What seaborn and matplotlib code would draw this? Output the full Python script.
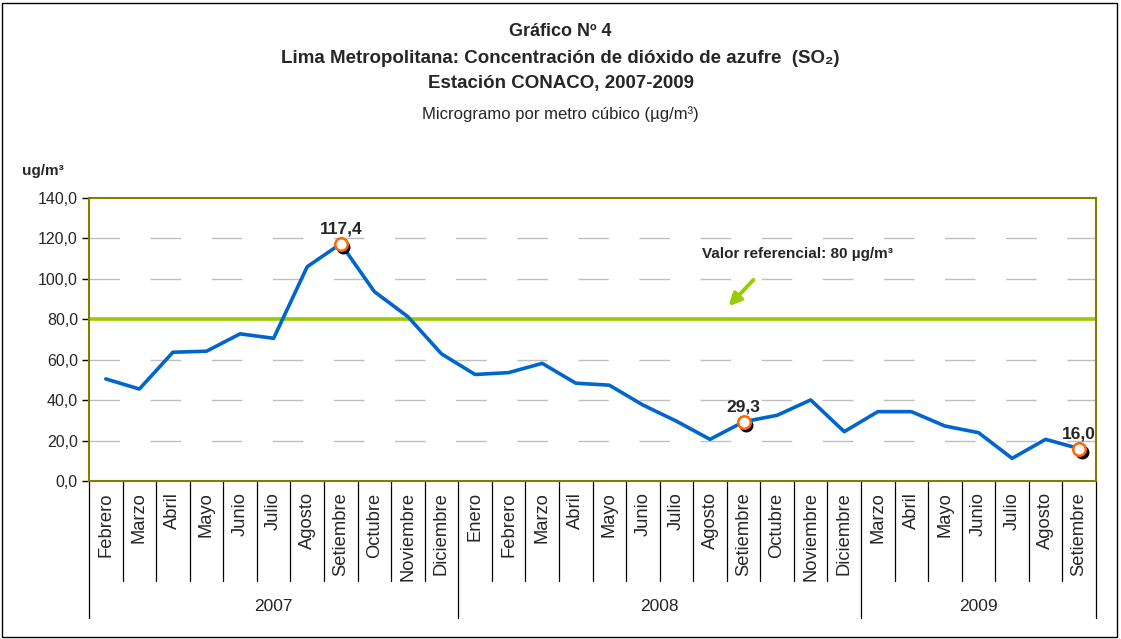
import matplotlib
matplotlib.use("Agg")
import matplotlib.pyplot as plt
import matplotlib.transforms as mtransforms
from matplotlib.patches import Rectangle
import seaborn as sns
import pandas as pd

months = ["Febrero", "Marzo", "Abril", "Mayo", "Junio", "Julio", "Agosto", "Setiembre",
          "Octubre", "Noviembre", "Diciembre",
          "Enero", "Febrero", "Marzo", "Abril", "Mayo", "Junio", "Julio", "Agosto",
          "Setiembre", "Octubre", "Noviembre", "Diciembre",
          "Marzo", "Abril", "Mayo", "Junio", "Julio", "Agosto", "Setiembre"]
years = ["2007", "2008", "2009"]
year_sizes = [11, 12, 7]
so2 = [50.5, 45.5, 63.7, 64.2, 72.8, 70.6, 106.0, 117.4, 93.7, 81.3, 62.9,
       52.7, 53.6, 58.2, 48.4, 47.4, 37.6, 29.6, 20.6, 29.3, 32.5, 40.1, 24.4,
       34.3, 34.3, 27.2, 23.9, 11.2, 20.6, 16.0]
ref_value = 80
highlight = [7, 19, 29]

df = pd.DataFrame({"pos": range(len(so2)), "so2": so2})

sns.set_style("white")
narrow = ["Liberation Sans Narrow", "Liberation Sans", "DejaVu Sans"]
plt.rcParams["font.family"] = ["Liberation Sans", "DejaVu Sans"]

fig = plt.figure(figsize=(11.21, 6.39), dpi=100)
ax = fig.add_axes([0.0794, 0.2473, 0.8983, 0.4428])

# reference line
ax.axhline(ref_value, color="#99CC00", lw=2.6, zorder=2)

sns.lineplot(data=df, x="pos", y="so2", ax=ax, color="#0066CC", lw=2.6, zorder=3)

# highlighted points: black shadow + orange hollow circle
shadow = mtransforms.offset_copy(ax.transData, fig=fig, x=2.5, y=-3, units="dots")
hx = [df["pos"][i] for i in highlight]
hy = [df["so2"][i] for i in highlight]
ax.plot(hx, hy, "o", ms=9, color="black", transform=shadow, zorder=4)
ax.plot(hx, hy, "o", ms=9, mfc="white", mec="#FF6600", mew=1.8, zorder=5)
for x, y in zip(hx, hy):
    ax.annotate(f"{y:.1f}".replace(".", ","), (x, y), xytext=(0, 5),
                textcoords="offset points", ha="center", va="bottom",
                fontsize=12.5, fontweight="bold")

# reference annotation
ax.annotate("", xy=(18.5, 85.5), xytext=(19.35, 100.5),
            arrowprops=dict(arrowstyle="-|>", color="#99CC00", lw=2.8,
                            mutation_scale=18))
ax.text(20.6, 112.5, "Valor referencial: 80 µg/m³", ha="center", va="center",
        fontsize=11, fontweight="bold", family=narrow)

ax.set_xlim(-0.5, len(so2) - 0.5)
ax.set_ylim(0, 140)
ax.set_yticks(range(0, 141, 20))
ax.set_yticklabels([f"{v:.1f}".replace(".", ",") for v in range(0, 141, 20)], fontsize=11.5)
ax.tick_params(axis="y", direction="out", length=5, width=1, color="black", left=True, pad=3)
ax.set_xticks([])
ax.set_xlabel("")
ax.set_ylabel("")
for v in range(20, 140, 20):
    if v != ref_value:
        ax.axhline(v, color="#BFBFBF", lw=1, dashes=(22, 22), zorder=1)
for s in ax.spines.values():
    s.set_color("#808000")
    s.set_linewidth(1.5)

# category axis: month labels, separators, years
trans = mtransforms.blended_transform_factory(ax.transData, ax.transAxes)
for i, m in enumerate(months):
    ax.text(i, -0.04, m, rotation=90, ha="center", va="top", fontsize=13.2,
            transform=trans)
bounds = [-0.5]
for n in year_sizes:
    bounds.append(bounds[-1] + n)
for b in [x - 0.5 for x in range(len(months) + 1)]:
    low = -0.485 if b in bounds else -0.353
    ax.plot([b, b], [0, low], color="black", lw=0.9, transform=trans, clip_on=False)
for k, yr in enumerate(years):
    ax.text((bounds[k] + bounds[k + 1]) / 2, -0.445, yr, ha="center", va="center",
            fontsize=12.5, transform=trans)

# titles
fig.text(0.5, 0.951, "Gráfico Nº 4", ha="center", va="center", fontsize=13,
         fontweight="bold", family=narrow)
fig.text(0.5, 0.908, "Lima Metropolitana: Concentración de dióxido de azufre  (SO₂)",
         ha="center", va="center", fontsize=13.5, fontweight="bold", family=narrow)
fig.text(0.5, 0.869, "Estación CONACO, 2007-2009", ha="center", va="center",
         fontsize=13.5, fontweight="bold", family=narrow)
fig.text(0.5, 0.822, "Microgramo por metro cúbico (µg/m³)", ha="center", va="center",
         fontsize=12, family=narrow)
fig.text(0.02, 0.733, "ug/m³", ha="left", va="center", fontsize=11,
         fontweight="bold", family=narrow)

fig.patches.append(Rectangle((0.002, 0.003), 0.994, 0.992, transform=fig.transFigure,
                             fill=False, edgecolor="black", lw=1))

fig.savefig("out.png", dpi=100)
